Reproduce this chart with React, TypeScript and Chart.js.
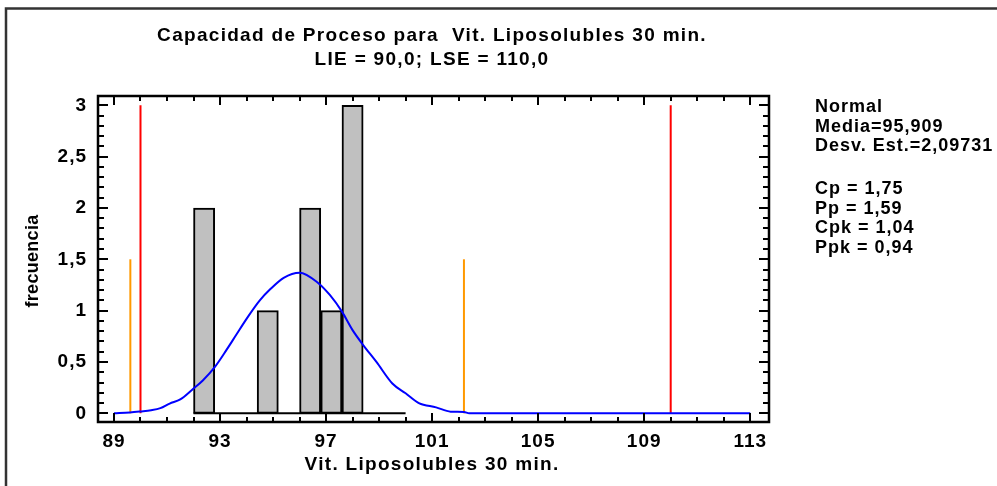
import React, { useEffect, useRef } from "react";
import { Chart, registerables } from "chart.js";

Chart.register(...registerables);

// ---- data ----
const binCenters = [92.4, 93.2, 94.0, 94.8, 95.6, 96.4, 97.2, 98.0, 98.8, 99.6];
const binCounts = [2, 0, 0, 1, 0, 2, 1, 3, 0, 0];
const histRange = [92, 100];

const curveX = [89.0, 89.6, 90.0, 90.4, 90.75, 91.1, 91.5, 91.95, 92.35, 92.8, 93.25, 93.6, 94.0, 94.5, 94.9, 95.4, 96.0, 96.7, 97.15, 97.6, 98.0, 98.4, 98.9, 99.5, 100.0, 100.5, 101.15, 101.7, 102.2, 102.4, 113.0];
const curveY = [0.0, 0.008, 0.018, 0.03, 0.05, 0.095, 0.135, 0.23, 0.32, 0.45, 0.62, 0.76, 0.92, 1.1, 1.21, 1.32, 1.37, 1.27, 1.15, 0.99, 0.81, 0.665, 0.5, 0.29, 0.195, 0.1, 0.058, 0.016, 0.013, 0.0, 0.0];

const specLimits = [90, 110]; // LIE, LSE
const specHeight = 3;
const sigmaLimits = [89.617, 102.201]; // media -/+ 3 sigma
const sigmaHeight = 1.5;

const xTickLabels = [89, 93, 97, 101, 105, 109, 113];
const yTickLabels = [0, 0.5, 1, 1.5, 2, 2.5, 3];

const titleLines = ["Capacidad de Proceso para  Vit. Liposolubles 30 min.", "LIE = 90,0; LSE = 110,0"];
const xTitle = "Vit. Liposolubles 30 min.";
const yTitle = "frecuencia";
const statsLines = ["Normal", "Media=95,909", "Desv. Est.=2,09731", "", "Cp = 1,75", "Pp = 1,59", "Cpk = 1,04", "Ppk = 0,94"];

const FONT = "'Liberation Sans', Arial, sans-serif";

const fmt = (v: number) => String(v).replace(".", ",");

const decor = {
  id: "decor",
  beforeDraw(chart: any) {
    const { ctx, width, height } = chart;
    ctx.save();
    ctx.fillStyle = "#ffffff";
    ctx.fillRect(0, 0, width, height);
    ctx.restore();
    (ctx as any).letterSpacing = "1px";
  },
  afterDraw(chart: any) {
    const { ctx, chartArea: a, scales } = chart;
    const xs = scales.x;
    const ys = scales.y;
    ctx.save();
    // plot frame
    ctx.strokeStyle = "#000";
    ctx.lineWidth = 2.5;
    ctx.strokeRect(a.left, a.top, a.right - a.left, a.bottom - a.top);
    // inward ticks on all four sides
    ctx.lineWidth = 2;
    ctx.beginPath();
    for (let v = Math.ceil(xs.min); v <= xs.max; v++) {
      const px = Math.round(xs.getPixelForValue(v));
      const len = xTickLabels.includes(v) ? 9 : 5;
      ctx.moveTo(px, a.bottom);
      ctx.lineTo(px, a.bottom - len);
      ctx.moveTo(px, a.top);
      ctx.lineTo(px, a.top + len);
    }
    for (let i = 0; i <= 30; i++) {
      const py = Math.round(ys.getPixelForValue(i / 10));
      const len = i % 5 === 0 ? 10 : 6;
      ctx.moveTo(a.left, py);
      ctx.lineTo(a.left + len, py);
      ctx.moveTo(a.right, py);
      ctx.lineTo(a.right - len, py);
    }
    ctx.stroke();

    // outer border (left & top)
    ctx.strokeStyle = "#333";
    ctx.lineWidth = 2.5;
    ctx.beginPath();
    ctx.moveTo(6, 486);
    ctx.lineTo(6, 8.5);
    ctx.lineTo(997, 8.5);
    ctx.stroke();

    // texts
    ctx.fillStyle = "#000";
    ctx.textBaseline = "middle";
    (ctx as any).letterSpacing = "1.3px";
    ctx.font = `bold 19px ${FONT}`;
    ctx.textAlign = "center";
    ctx.fillText(titleLines[0], 432, 36);
    ctx.fillText(titleLines[1], 432, 60);
    ctx.fillText(xTitle, 432, 465);

    ctx.textAlign = "left";
    ctx.font = `bold 18px ${FONT}`;
    (ctx as any).letterSpacing = "1px";
    const ys2 = [107.5, 127, 146.5, 0, 189.5, 209, 228.5, 248];
    statsLines.forEach((t, i) => {
      if (t) ctx.fillText(t, 815, ys2[i]);
    });

    (ctx as any).letterSpacing = "0.3px";
    ctx.save();
    ctx.translate(33, 261);
    ctx.rotate(-Math.PI / 2);
    ctx.textAlign = "center";
    ctx.font = `bold 18px ${FONT}`;
    ctx.fillText(yTitle, 0, 0);
    ctx.restore();

    ctx.restore();
  },
};

export default function App() {
  const ref = useRef<HTMLCanvasElement | null>(null);

  useEffect(() => {
    if (!ref.current) return;
    const lineDs = (label: string, pts: { x: number; y: number }[], color: string, width: number, order = 1, smooth = false) => ({
      type: "line" as const,
      label,
      data: pts,
      borderColor: color,
      backgroundColor: color,
      borderWidth: width,
      pointRadius: 0,
      cubicInterpolationMode: smooth ? "monotone" : "default",
      tension: 0,
      fill: false,
      order,
    });

    const chart = new Chart(ref.current, {
      type: "bar",
      data: {
        datasets: [
          {
            type: "bar",
            label: "hist",
            data: binCenters.map((x, i) => ({ x, y: binCounts[i] })),
            backgroundColor: "#c0c0c0",
            borderColor: "#000",
            borderWidth: 2,
            borderSkipped: false,
            barPercentage: 1,
            categoryPercentage: 1,
            order: 10,
          } as any,
          lineDs("base", histRange.map((x) => ({ x, y: 0 })), "#000", 2, 9),
          lineDs("curve", curveX.map((x, i) => ({ x, y: curveY[i] })), "#0000ff", 2, 1, true),
          ...specLimits.map((x, i) => lineDs("spec" + i, [{ x, y: 0 }, { x, y: specHeight }], "#ff0000", 2, 2)),
          ...sigmaLimits.map((x, i) => lineDs("sigma" + i, [{ x, y: 0 }, { x, y: sigmaHeight }], "#ff9900", 2, 2)),
        ] as any,
      },
      options: {
        responsive: false,
        animation: false,
        devicePixelRatio: 1,
        layout: { padding: { left: 8, right: 228, top: 96, bottom: 4 } },
        plugins: {
          legend: { display: false },
          title: { display: false },
          tooltip: { enabled: false },
        },
        scales: {
          x: {
            type: "linear",
            min: 88.397,
            max: 113.708,
            offset: false,
            grid: { display: false, drawTicks: false },
            border: { display: false },
            afterFit: (s: any) => {
              s.height = 60;
            },
            afterBuildTicks: (s: any) => {
              s.ticks = xTickLabels.map((v) => ({ value: v }));
            },
            ticks: {
              autoSkip: false,
              maxRotation: 0,
              padding: 8,
              color: "#000",
              font: { family: FONT, size: 19, weight: "bold" },
              callback: (v: any) => fmt(Number(v)),
            },
          },
          y: {
            type: "linear",
            min: -0.0847,
            max: 3.0905,
            grid: { display: false, drawTicks: false },
            border: { display: false },
            afterFit: (s: any) => {
              s.width = 90;
            },
            afterBuildTicks: (s: any) => {
              s.ticks = yTickLabels.map((v) => ({ value: v }));
            },
            ticks: {
              autoSkip: false,
              padding: 11,
              color: "#000",
              font: { family: FONT, size: 19, weight: "bold" },
              callback: (v: any) => fmt(Number(v)),
            },
          },
        },
      } as any,
      plugins: [decor],
    });
    return () => chart.destroy();
  }, []);

  return (
    <div style={{ position: "absolute", left: 0, top: 0, width: 997, height: 486, background: "#fff" }}>
      <canvas ref={ref} width={997} height={486} style={{ display: "block" }} />
    </div>
  );
}
